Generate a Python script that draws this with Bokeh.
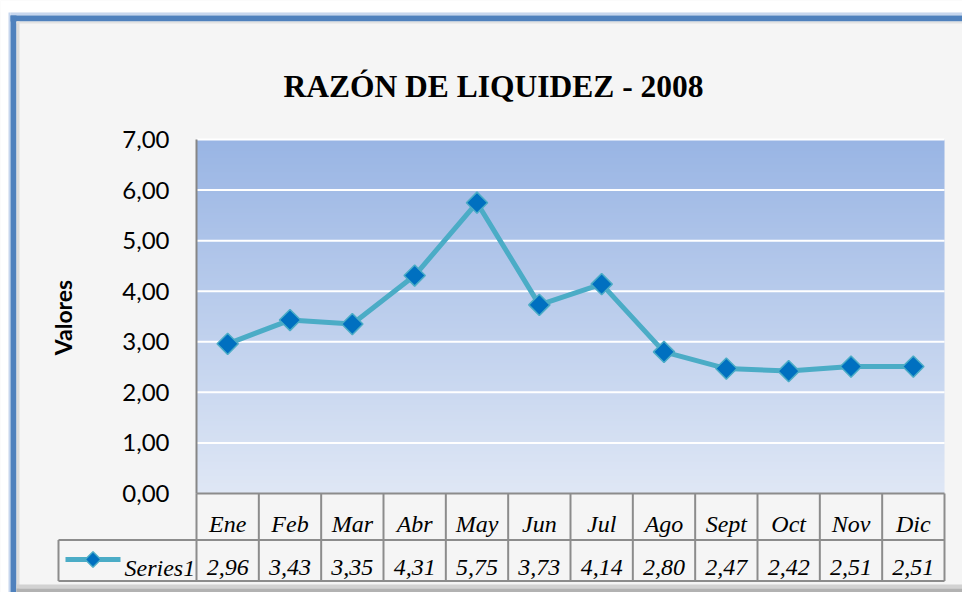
import numpy as np
from bokeh.plotting import figure
from bokeh.models import Range1d
from bokeh.core.properties import value
from bokeh.embed import file_html
from bokeh.resources import INLINE

# ---------------- data ----------------
title_text = "RAZÓN DE LIQUIDEZ - 2008"
months = ["Ene", "Feb", "Mar", "Abr", "May", "Jun", "Jul", "Ago", "Sept", "Oct", "Nov", "Dic"]
liquidez = [2.96, 3.43, 3.35, 4.31, 5.75, 3.73, 4.14, 2.80, 2.47, 2.42, 2.51, 2.51]
y_ticks = [0, 1, 2, 3, 4, 5, 6, 7]
y_tick_labels = ["0,00", "1,00", "2,00", "3,00", "4,00", "5,00", "6,00", "7,00"]
series_name = "Series1"
y_axis_title = "Valores"

# ---------------- layout (page pixels) ----------------
W, H = 962, 592
PL, PR, PT, PB = 196, 944, 139, 493       # plot area
X0, X1 = -0.5, len(months) - 0.5
Y0, Y1 = y_ticks[0], y_ticks[-1]

def sx(px):  # page x pixel -> data x
    return X0 + (px - PL) / (PR - PL) * (X1 - X0)

def sy(py):  # page y pixel -> data y
    return Y1 - (py - PT) / (PB - PT) * (Y1 - Y0)

def fmt(v):
    return f"{v:.2f}".replace(".", ",")

p = figure(width=W, height=H, title=None,
           x_range=Range1d(sx(0), sx(W)), y_range=Range1d(sy(H), sy(0)),
           x_axis_location=None, y_axis_location=None,
           output_backend="svg", toolbar_location=None, min_border=0,
           background_fill_color="#f5f5f5", border_fill_color="#f5f5f5",
           outline_line_color=None)
p.grid.visible = False

# ---------------- outer chart frame ----------------
def box(l, r, t, b, color):
    p.quad(left=sx(l), right=sx(r), top=sy(t), bottom=sy(b),
           fill_color=color, line_color=None)

box(0, W, 0, 12, "white")
box(0, 10, 0, H, "white")
box(10, W, 12, 15, "#c6d6ee")
box(8, 10, 12, H, "#c6d6ee")
box(10, W, 15, 21, "#4f81bd")
box(10, 16, 15, H, "#4f81bd")
box(16, W, 21, 23, "#e2e2e2")
box(16, 19, 21, H, "#dddddd")
box(16, W, 584, 588, "#d2d2d2")
box(16, W, 588, H, "#b2b2b2")

# ---------------- plot area gradient ----------------
n = 256
t = np.linspace(0.0, 1.0, n)[:, None]
top_c = np.array([153, 181, 228], dtype=float)
bot_c = np.array([223, 231, 245], dtype=float)
cols = bot_c + (top_c - bot_c) * t
img = np.empty((n, 2), dtype=np.uint32)
v = img.view(dtype=np.uint8).reshape((n, 2, 4))
for k in range(3):
    v[:, :, k] = np.round(cols[:, k])[:, None].astype(np.uint8)
v[:, :, 3] = 255
p.image_rgba(image=[img], x=X0, y=Y0, dw=X1 - X0, dh=Y1 - Y0)

# ---------------- grid lines & axis ----------------
p.segment(x0=X0, x1=X1, y0=y_ticks[1:], y1=y_ticks[1:], line_color="white", line_width=2)
p.segment(x0=X0, x1=X0, y0=Y0, y1=Y1, line_color="#868686", line_width=2)

p.text(x=sx(169), y=y_ticks, text=y_tick_labels, text_align="right",
       text_baseline="middle", text_font=value("Lato"), text_font_size="24px",
       text_color="black")
p.text(x=sx(62), y=sy(317), text=[y_axis_title], angle=np.pi / 2,
       text_align="center", text_baseline="middle", text_font=value("Lato"),
       text_font_style="bold", text_font_size="23px", text_color="black")

# ---------------- series ----------------
xs = list(range(len(months)))
p.line(xs, liquidez, line_color="#4bacc6", line_width=5, line_join="round")
p.scatter(xs, liquidez, marker="square", angle=np.pi / 4, size=15,
          fill_color="#0070c0", line_color="#4bacc6", line_width=1.5)

# ---------------- data table ----------------
grid_col = "#8c8c8c"
y_mid, y_bot = sy(539.5), sy(580.5)
x_leg = sx(58)
col_edges = [X0 + k for k in range(len(months) + 1)]

p.segment(x0=[X0, x_leg, x_leg, x_leg], y0=[Y0, y_mid, y_bot, y_mid],
          x1=[X1, X1, X1, x_leg], y1=[Y0, y_mid, y_bot, y_bot],
          line_color=grid_col, line_width=2)
p.segment(x0=col_edges, x1=col_edges, y0=Y0, y1=y_bot, line_color=grid_col, line_width=2)

p.text(x=xs, y=sy(523), text=months, text_align="center", text_baseline="alphabetic",
       text_font=value("Liberation Serif"), text_font_style="italic",
       text_font_size="24px", text_color="black")
p.text(x=xs, y=sy(567), text=[fmt(val) for val in liquidez], text_align="center",
       text_baseline="alphabetic", text_font=value("Liberation Serif"),
       text_font_style="italic", text_font_size="24px", text_color="black")

# legend key
p.segment(x0=sx(65), x1=sx(120), y0=sy(559), y1=sy(559), line_color="#4bacc6", line_width=5)
p.scatter(x=[sx(92.5)], y=[sy(559)], marker="square", angle=np.pi / 4, size=11,
          fill_color="#0070c0", line_color="#4bacc6", line_width=1.5)
p.text(x=sx(124), y=sy(567), text=[series_name], text_align="left",
       text_baseline="alphabetic", text_font=value("Liberation Serif"),
       text_font_style="italic", text_font_size="24px", text_color="black")

# ---------------- title ----------------
p.text(x=sx(493), y=sy(86), text=[title_text], text_align="center",
       text_baseline="alphabetic", text_font=value("Liberation Serif"),
       text_font_style="bold", text_font_size="31.5px", text_color="black")

open("out.html", "w").write(file_html(p, INLINE))
